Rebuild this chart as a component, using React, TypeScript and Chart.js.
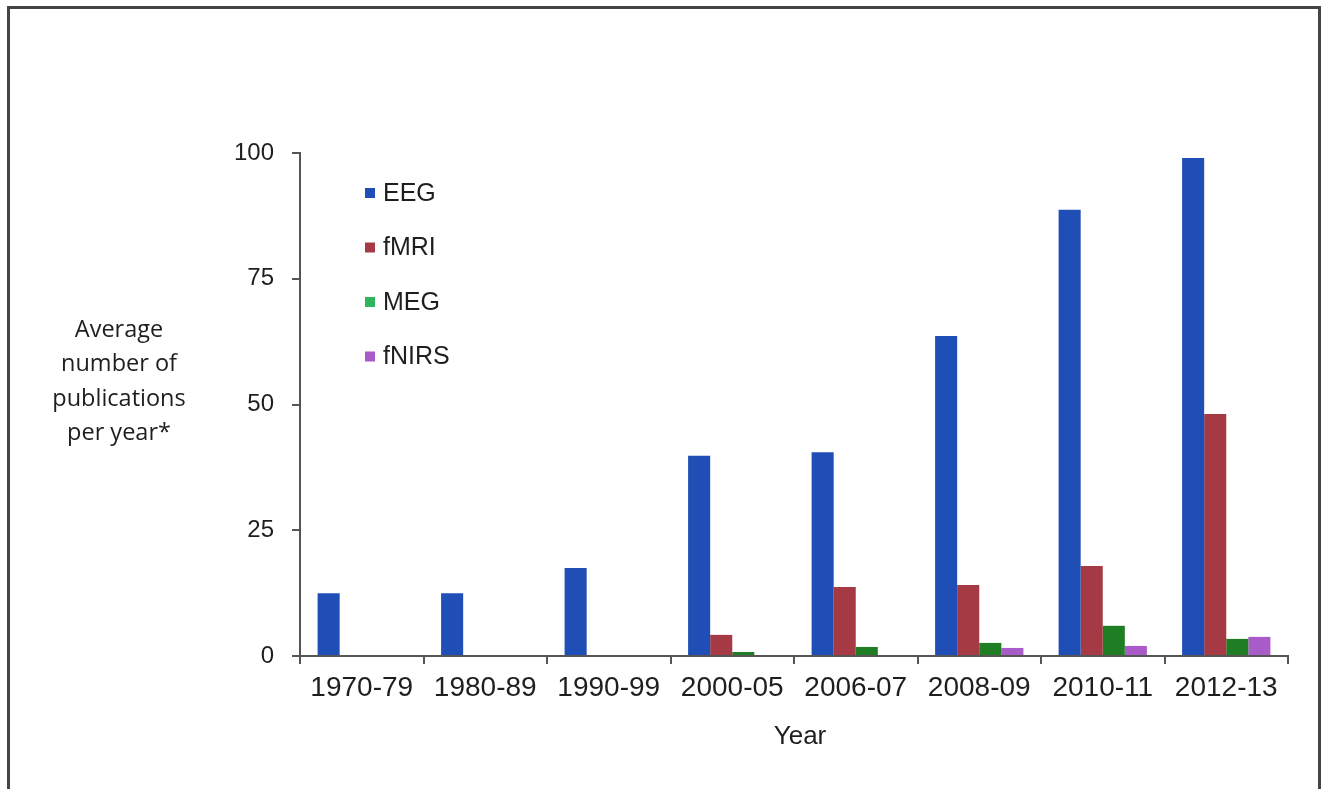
import React, { useEffect, useRef } from "react";
import { Chart, registerables } from "chart.js";

Chart.register(...registerables);

const categories = ["1970-79", "1980-89", "1990-99", "2000-05", "2006-07", "2008-09", "2010-11", "2012-13"];
const eegValues = [12.5, 12.5, 17.5, 39.8, 40.5, 63.6, 88.7, 99];
const fmriValues = [0, 0, 0, 4.2, 13.7, 14.1, 17.9, 48.1];
const megValues = [0, 0, 0, 0.8, 1.8, 2.6, 6, 3.4];
const fnirsValues = [0, 0, 0, 0, 0, 1.6, 2, 3.8];
const yTickValues = [0, 25, 50, 75, 100];
const yTitleLines = ["Average", "number of", "publications", "per year*"];
const xTitle = "Year";

const seriesNames = ["EEG", "fMRI", "MEG", "fNIRS"];
const barColors = ["#1f4fb6", "#a53a45", "#1f7d24", "#a95bc8"];
const legendColors = ["#1f4fb6", "#a53a45", "#2fb65c", "#a95bc8"];

const textPlugin = {
  id: "customText",
  afterDraw(chart: any) {
    const ctx = chart.ctx;
    const area = chart.chartArea;
    ctx.save();
    // Y title
    ctx.fillStyle = "#1e1e1e";
    ctx.font = "23.5px 'Open Sans'";
    ctx.textAlign = "center";
    ctx.textBaseline = "middle";
    yTitleLines.forEach((line, i) => {
      ctx.fillText(line, 109, 321 + i * 34.5);
    });
    // X title
    ctx.font = "26px 'Liberation Sans'";
    ctx.fillStyle = "#1e1e1e";
    ctx.fillText(xTitle, (area.left + area.right) / 2 + 6, 728);
    // Legend
    ctx.textAlign = "left";
    ctx.font = "25px 'Liberation Sans'";
    chart.data.datasets.forEach((ds: any, i: number) => {
      const y = 184 + i * 54.5;
      ctx.fillStyle = ds.legendColor;
      ctx.fillRect(355, y - 5, 10, 10);
      ctx.fillStyle = "#1e1e1e";
      ctx.fillText(ds.label, 373, y + 1);
    });
    ctx.restore();
  },
};

export default function App() {
  const canvasRef = useRef<HTMLCanvasElement | null>(null);

  useEffect(() => {
    if (!canvasRef.current) return;
    const valueSets = [eegValues, fmriValues, megValues, fnirsValues];
    const chart = new Chart(canvasRef.current, {
      type: "bar",
      data: {
        labels: categories,
        datasets: valueSets.map((vals, i) => ({
          label: seriesNames[i],
          data: vals,
          backgroundColor: barColors[i],
          legendColor: legendColors[i],
          borderWidth: 0,
          categoryPercentage: 0.715,
          barPercentage: 1,
        })) as any,
      },
      options: {
        animation: false,
        responsive: false,
        maintainAspectRatio: false,
        layout: { padding: { top: 144, right: 30, left: 0, bottom: 0 } },
        plugins: {
          legend: { display: false },
          tooltip: { enabled: false },
          title: { display: false },
        },
        scales: {
          x: {
            offset: true,
            grid: {
              offset: true,
              drawOnChartArea: false,
              drawTicks: true,
              tickLength: 8,
              color: "#555",
              lineWidth: 2,
            },
            border: { display: true, color: "#555", width: 2 },
            ticks: {
              color: "#1e1e1e",
              font: { family: "'Liberation Sans'", size: 28 },
              padding: 7,
              maxRotation: 0,
              autoSkip: false,
            },
            afterFit(scale: any) {
              scale.height = 133;
            },
          },
          y: {
            min: 0,
            max: 100,
            afterBuildTicks(scale: any) {
              scale.ticks = yTickValues.map((v) => ({ value: v }));
            },
            grid: {
              drawOnChartArea: false,
              drawTicks: true,
              tickLength: 8,
              color: "#555",
              lineWidth: 2,
            },
            border: { display: true, color: "#555", width: 2 },
            ticks: {
              color: "#1e1e1e",
              font: { family: "'Liberation Sans'", size: 24 },
              padding: 18,
            },
            afterFit(scale: any) {
              scale.width = 290;
            },
          },
        },
      } as any,
      plugins: [textPlugin],
    });
    return () => chart.destroy();
  }, []);

  return (
    <div
      style={{
        position: "fixed",
        left: 7,
        top: 6,
        width: 1308,
        height: 800,
        borderLeft: "3px solid #444",
        borderTop: "3px solid #444",
        borderRight: "3px solid #444",
        background: "#fff",
      }}
    >
      <canvas ref={canvasRef} width={1308} height={780} style={{ display: "block" }} />
    </div>
  );
}
